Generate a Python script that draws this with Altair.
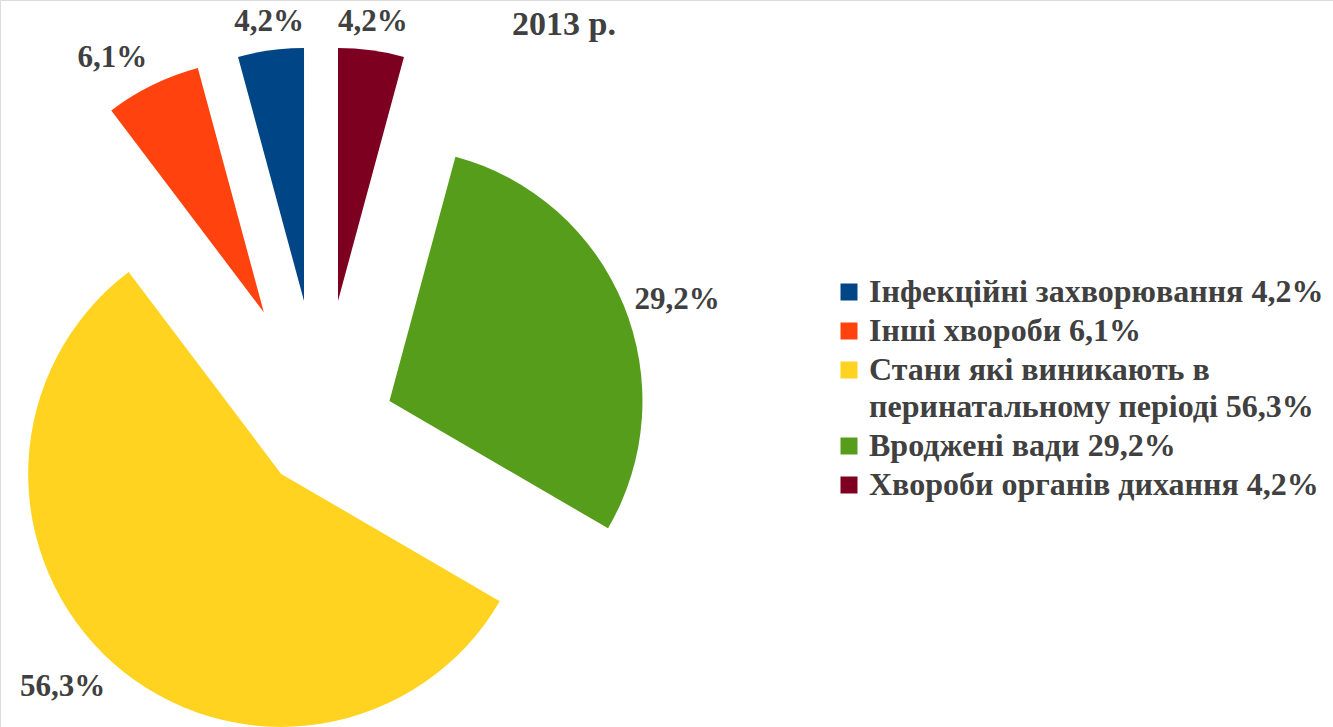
import altair as alt
import pandas as pd

# ---------------- data (pie order: clockwise from 12 o'clock) ----------------
NAMES = [
    "Хвороби  органів дихання",
    "Вроджені вади",
    "Стани які виникають в перинатальному періоді",
    "Інші хвороби",
    "Інфекційні захворювання",
]
VALUES = [4.2, 29.2, 56.3, 6.1, 4.2]
COLORS = ["#7E0021", "#579D1C", "#FFD320", "#FF420E", "#004586"]
LEGEND_ORDER = [4, 3, 2, 1, 0]          # indices into NAMES, legend top -> bottom
WRAP = {"Стани які виникають в перинатальному періоді": ["Стани які виникають в", "перинатальному періоді"]}
TITLE = "2013 р."

# ---------------- style ----------------
EXPLODE = [129, 74, 60, 130, 129]       # pixel offset of each slice from the pie centre
CX, CY = 321, 429
RADIUS = 253
LABEL_PAD = 12
FONT = "Liberation Serif"
TEXT_COLOR = "#404040"

pct = [f"{v:.1f}".replace(".", ",") + "%" for v in VALUES]
legend_txt = [f"{n} {p}" for n, p in zip(NAMES, pct)]

df = pd.DataFrame({
    "order": list(range(len(NAMES))),
    "name": NAMES,
    "value": VALUES,
    "pct": pct,
    "legend": legend_txt,
    "explode": EXPLODE,
})

legend_domain = [legend_txt[i] for i in LEGEND_ORDER]
legend_range = [COLORS[i] for i in LEGEND_ORDER]

# multi-line legend label
expr_parts = []
for name, lines in WRAP.items():
    i = NAMES.index(name)
    full = legend_txt[i]
    l = list(lines)
    l[-1] = l[-1] + " " + pct[i]
    arr = "[" + ", ".join("'" + s + "'" for s in l) + "]"
    expr_parts.append(f"datum.label == '{full}' ? {arr} : ")
label_expr = "".join(expr_parts) + "datum.label"

base = (
    alt.Chart(df)
    .transform_joinaggregate(total="sum(value)")
    .transform_window(cum="sum(value)", sort=[alt.SortField("order")], frame=[None, 0])
    .transform_calculate(t1="datum.cum / datum.total * 2 * PI")
    .transform_calculate(t0="(datum.cum - datum.value) / datum.total * 2 * PI")
    .transform_calculate(mid="(datum.t0 + datum.t1) / 2")
    .transform_calculate(cx=f"{CX} + datum.explode * sin(datum.mid)")
    .transform_calculate(cy=f"{CY} - datum.explode * cos(datum.mid)")
    .transform_calculate(lx=f"{CX} + (datum.explode + {RADIUS} + {LABEL_PAD}) * sin(datum.mid)")
    .transform_calculate(ly=f"{CY} - (datum.explode + {RADIUS} + {LABEL_PAD}) * cos(datum.mid)")
)

arcs = base.mark_arc(radius=RADIUS, strokeWidth=0).encode(
    x=alt.X("cx:Q", scale=None, axis=None),
    y=alt.Y("cy:Q", scale=None, axis=None),
    theta=alt.Theta("t0:Q", scale=None, stack=None),
    theta2="t1:Q",
    color=alt.Color(
        "legend:N",
        scale=alt.Scale(domain=legend_domain, range=legend_range),
        legend=alt.Legend(
            orient="none", legendX=833, legendY=276, title=None,
            symbolType="square", symbolSize=289, symbolStrokeWidth=0,
            labelFont=FONT, labelFontSize=32, labelFontWeight="bold",
            labelColor=TEXT_COLOR, labelLimit=800, labelOffset=4,
            rowPadding=7, padding=0, labelExpr=label_expr,
        ),
    ),
    tooltip=["name:N", "value:Q"],
)

labels = base.mark_text(
    font=FONT, fontSize=31, fontWeight="bold", color=TEXT_COLOR,
    align=alt.expr("sin(datum.mid) > 0.3 ? 'left' : (sin(datum.mid) < -0.3 ? 'right' : 'center')"),
    baseline=alt.expr("-cos(datum.mid) < -0.5 ? 'bottom' : (-cos(datum.mid) > 0.5 ? 'top' : 'middle')"),
).encode(
    x=alt.X("lx:Q", scale=None, axis=None),
    y=alt.Y("ly:Q", scale=None, axis=None),
    text="pct:N",
)

chart = (
    alt.layer(arcs, labels)
    .properties(
        width=1333, height=727, autosize="none", padding=0,
        title=alt.TitleParams(
            TITLE, anchor="start", frame="group", dx=512, dy=69, offset=0,
            baseline="alphabetic", font=FONT, fontSize=34, fontWeight="bold",
            color=TEXT_COLOR,
        ),
    )
    .configure_view(stroke=None)
    .configure(background="white", style={"guide-label": {"lineHeight": 37}})
)

chart.save("out.html", embed_options={"renderer": "svg", "actions": False})
